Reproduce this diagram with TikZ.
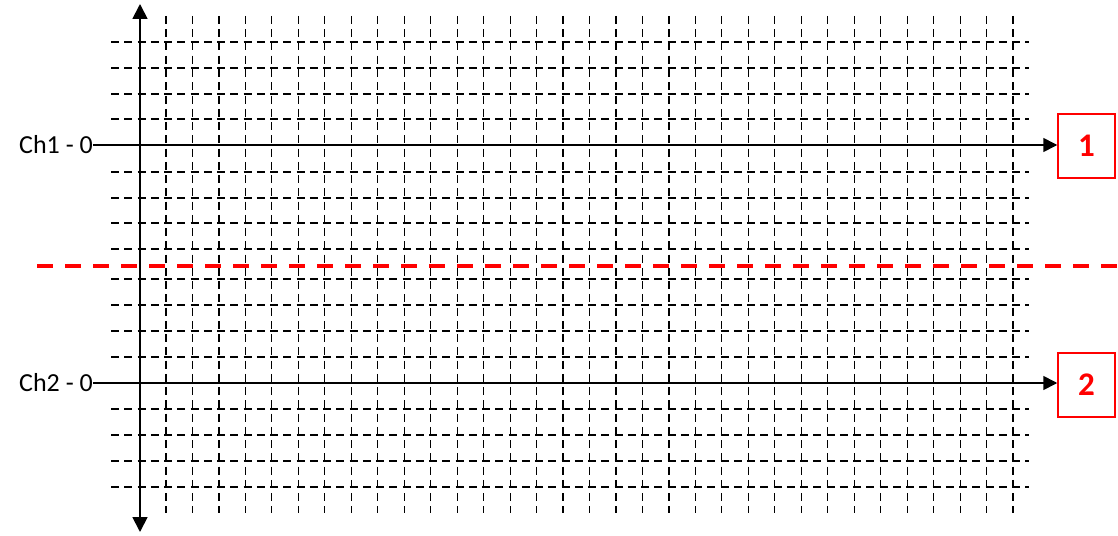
\documentclass[tikz,border=0pt]{standalone}
\usepackage{fontspec}
\setmainfont{Carlito}
\usetikzlibrary{arrows.meta}
\begin{document}
\begin{tikzpicture}[x=1pt,y=-1pt,
  gridline/.style={line width=1.2pt, dash pattern=on 8pt off 5.25pt},
  axisarrow/.style={line width=1.6pt, -{Triangle[length=14pt,width=14pt]}},
  vaxis/.style={line width=1.8pt, -{Triangle[length=15pt,width=15pt]}},
  chlabel/.style={font=\fontsize{26}{30}\selectfont, inner sep=0pt, anchor=east},
  numbox/.style={draw=red, line width=1.5pt, minimum width=57pt, minimum height=64pt,
    inner sep=0pt, text=red, font=\fontsize{33}{36}\selectfont\bfseries},
  divider/.style={red, line width=3.5pt, dash pattern=on 16pt off 12pt}]
\useasboundingbox (0,0) rectangle (1118,535);
% horizontal grid lines
\foreach \y in {42,68,94,119,172,198,223,249,279,305,331,357,409,435,461,487}
  \draw[gridline] (111,\y) -- (1029,\y);
% vertical grid lines
\foreach \i in {0,...,32}
  \draw[gridline] ({166+26.47*\i},16) -- ({166+26.47*\i},513);
% red divider
\draw[divider] (37,266) -- (1118,266);
% vertical axis
\coordinate (vmid) at (140,266);
\coordinate (vtop) at (140,4);
\coordinate (vbot) at (140,532);
\draw[vaxis] (vmid) -- (vtop);
\draw[vaxis] (vmid) -- (vbot);
% channel labels and boxes
\node[chlabel] (ch1) at (93,145) {Ch1 - 0};
\node[chlabel] (ch2) at (93,383) {Ch2 - 0};
\node[numbox] (b1) at (1086.5,146) {1};
\node[numbox] (b2) at (1086.5,385) {2};
\draw[axisarrow] (ch1.east) -- (ch1.east -| b1.west);
\draw[axisarrow] (ch2.east) -- (ch2.east -| b2.west);
\end{tikzpicture}
\end{document}
